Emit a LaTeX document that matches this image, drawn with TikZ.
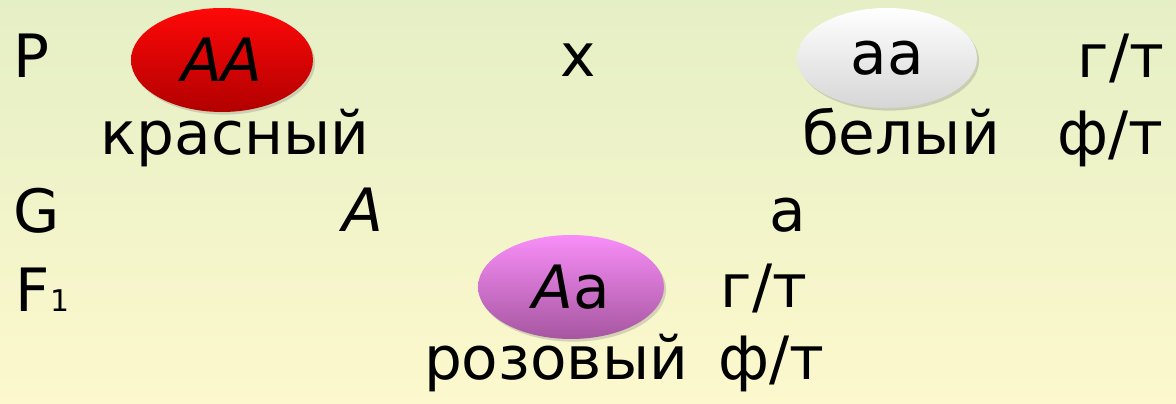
\documentclass[tikz,border=0pt]{standalone}
\usepackage{fontspec}
\setmainfont{DejaVu Sans}
\usetikzlibrary{shapes.geometric, shadows}

\definecolor{bgtop}{RGB}{229,239,197}
\definecolor{bgbottom}{RGB}{253,248,205}
\definecolor{redtop}{RGB}{255,8,8}
\definecolor{redbottom}{RGB}{178,0,0}
\definecolor{whitebottom}{RGB}{214,214,214}
\definecolor{pinktop}{RGB}{248,142,248}
\definecolor{pinkbottom}{RGB}{166,86,160}

\begin{document}
\begin{tikzpicture}[
    x=0.02cm, y=-0.02cm,
    txt/.style = { inner sep=0pt, anchor=base, font=\fontsize{34}{40}\selectfont },
    cell/.style = { ellipse, inner sep=0pt, font=\fontsize{34}{40}\selectfont,
                    drop shadow={shadow xshift=1.2pt, shadow yshift=-1.5pt, opacity=0.3} },
    ]

    % background
    \shade[top color=bgtop, bottom color=bgbottom] (0,0) rectangle (1176,404);

    % parents
    \node[txt, anchor=base west] (P) at (13,78) {P};
    \node[cell, minimum width=3.64cm, minimum height=2.08cm,
          top color=redtop, bottom color=redbottom] (AA) at (222,60) {\itshape AA};
    \node[txt] (red) at (235,155) {красный};
    \node[txt] (cross) at (578,77) {x};
    \node[cell, minimum width=3.6cm, minimum height=2.0cm,
          top color=white, bottom color=whitebottom] (aa) at (887,58) {aa};
    \node[txt] (gtP) at (1121,78) {г/т};
    \node[txt] (white) at (901,155) {белый};
    \node[txt] (ftP) at (1110,155) {ф/т};

    % gametes
    \node[txt, anchor=base west] (G) at (13,233) {G};
    \node[txt] (gamA) at (363,232) {\itshape A};
    \node[txt] (gama) at (788,232) {a};

    % offspring
    \node[txt, anchor=base west] (F) at (15,312) {F};
    \node[txt, anchor=base west, font=\fontsize{17}{20}\selectfont] (one) at (50,312) {1};
    \node[cell, minimum width=3.72cm, minimum height=2.08cm,
          top color=pinktop, bottom color=pinkbottom] (Aa) at (571,287) {{\itshape A}a};
    \node[txt] (gtF) at (764,308) {г/т};
    \node[txt] (pink) at (556,380) {розовый};
    \node[txt] (ftF) at (771,380) {ф/т};

  \end{tikzpicture}
\end{document}
